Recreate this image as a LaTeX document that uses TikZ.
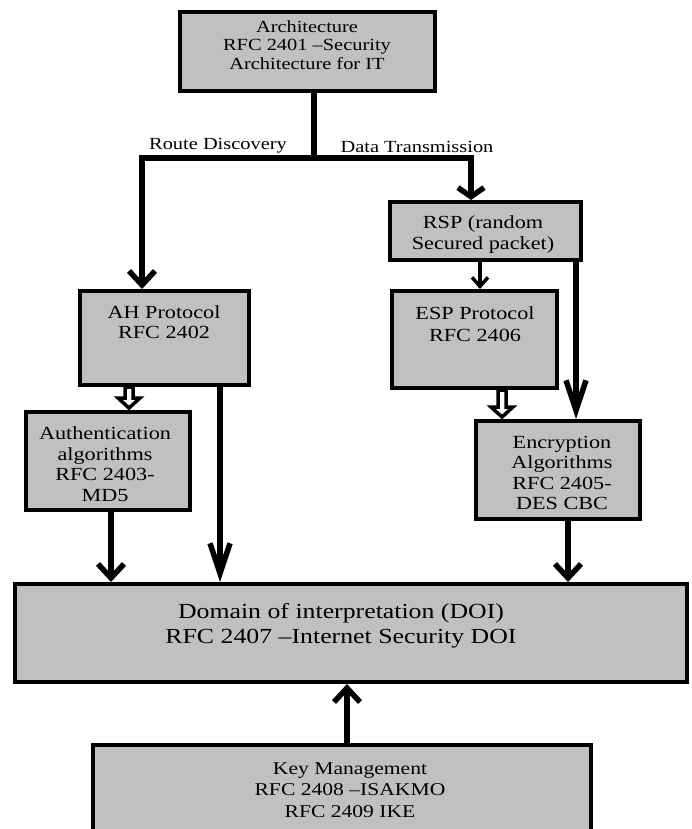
\documentclass[tikz,border=0pt]{standalone}
\usepackage{fontspec}
\setmainfont{Liberation Serif}[FakeStretch=1.2]
\usetikzlibrary{arrows.meta,calc}
\definecolor{boxgray}{RGB}{192,192,192}

% short white block arrow pointing down, from #1 to #2 (same x)
\newcommand{\hollowdown}[2]{%
  \draw[hollow] let \p1=(#1), \p2=(#2) in
    (\x1-4pt,\y1) -- (\x1-4pt,\y2+12pt) -- (\x1-11pt,\y2+12pt) -- (\x1,\y2+2pt)
    -- (\x1+11pt,\y2+12pt) -- (\x1+4pt,\y2+12pt) -- (\x1+4pt,\y1) -- cycle;}

\begin{document}
\begin{tikzpicture}[x=1pt,y=-1pt,
  box/.style={draw=black, fill=boxgray, line width=4pt, rectangle,
              anchor=north west, inner sep=0pt},
  txt/.style={align=center, inner sep=0pt, text=black},
  conn/.style={draw=black, line width=5.5pt},
  bigtip/.style={conn, -{Straight Barb[length=14pt,width=26pt]}},
  flattip/.style={conn, -{Straight Barb[length=9pt,width=26pt]}},
  longtip/.style={conn, -{Straight Barb[length=30pt,width=20pt]}},
  smalltip/.style={draw=black, line width=3.5pt, -{Straight Barb[length=9pt,width=16pt]}},
  hollow/.style={draw=black, fill=white, line width=3.5pt, line join=miter},
  lbl/.style={txt, font=\fontsize{17}{18.3}\selectfont}
]
\useasboundingbox (0,0) rectangle (691,829);
\clip (0,0) rectangle (691,829);

% boxes
\node[box, minimum width=255pt, minimum height=79pt] (arch) at (178,10) {};
\node[box, minimum width=191pt, minimum height=58pt] (rsp)  at (388,200) {};
\node[box, minimum width=169pt, minimum height=94pt] (ah)   at (78,289) {};
\node[box, minimum width=165pt, minimum height=97pt] (esp)  at (390,289) {};
\node[box, minimum width=164pt, minimum height=98pt] (auth) at (24,410) {};
\node[box, minimum width=164pt, minimum height=98pt] (enc)  at (474,419) {};
\node[box, minimum width=672pt, minimum height=98pt] (doi)  at (13,582) {};
\node[box, minimum width=498pt, minimum height=110pt] (key) at (91,743) {};

% box texts
\node[txt, font=\fontsize{17}{18.3}\selectfont] (archT) at (307,45)
  {Architecture\\RFC 2401 –Security\\Architecture for IT};
\node[txt, font=\fontsize{18.5}{21}\selectfont] (rspT) at (483,235)
  {RSP (random\\Secured packet)};
\node[txt, font=\fontsize{18.5}{20}\selectfont] (ahT) at (164,322)
  {AH Protocol\\RFC 2402};
\node[txt, font=\fontsize{18.5}{21.7}\selectfont] (espT) at (475,324)
  {ESP Protocol\\RFC 2406};
\node[txt, font=\fontsize{18.5}{20.6}\selectfont] (authT) at (105,464)
  {Authentication\\algorithms\\RFC 2403-\\MD5};
\node[txt, font=\fontsize{18.5}{20.3}\selectfont] (encT) at (562,473)
  {Encryption\\Algorithms\\RFC 2405-\\DES CBC};
\node[txt, font=\fontsize{21.5}{25}\selectfont] (doiT) at (341,626)
  {Domain of interpretation (DOI)\\RFC 2407 –Internet Security DOI};
\node[txt, font=\fontsize{18}{21.7}\selectfont] (keyT) at (350,790)
  {Key Management\\RFC 2408 –ISAKMO\\RFC 2409 IKE};

% branch labels
\node[lbl] (rd) at (218,146) {Route Discovery};
\node[lbl] (dt) at (417,147) {Data Transmission};

% connector columns
\coordinate (split)  at (314,158);
\coordinate (cTrunk) at (314,0);
\coordinate (cLeft)  at (142,0);
\coordinate (cRight) at (471,0);
\coordinate (cSmall) at (480,0);
\coordinate (cRsp)   at (576,0);
\coordinate (cHa)    at (129,0);
\coordinate (cAhDoi) at (220,0);
\coordinate (cHe)    at (502,0);
\coordinate (cAuth)  at (111,0);
\coordinate (cEnc)   at (568,0);
\coordinate (cKey)   at (347,0);

% connectors
\draw[bigtip] (arch.south -| cTrunk) -- (split) -| (ah.north -| cLeft);
\draw[flattip] (split) -| (rsp.north -| cRight);
\draw[smalltip] (rsp.south -| cSmall) -- (esp.north -| cSmall);
\draw[longtip] (rsp.south -| cRsp) -- (enc.north -| cRsp);
\draw[longtip] (ah.south -| cAhDoi) -- (doi.north -| cAhDoi);
\draw[bigtip] (auth.south -| cAuth) -- (doi.north -| cAuth);
\draw[bigtip] (enc.south -| cEnc) -- (doi.north -| cEnc);
\draw[bigtip] (key.north -| cKey) -- (doi.south -| cKey);
\hollowdown{ah.south -| cHa}{auth.north -| cHa}
\hollowdown{esp.south -| cHe}{enc.north -| cHe}
\end{tikzpicture}
\end{document}
